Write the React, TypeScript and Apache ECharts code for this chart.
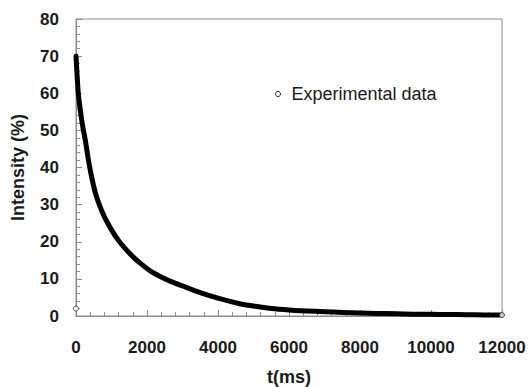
import React, { useEffect, useRef } from "react";
import * as echarts from "echarts";

const timeMs = [0, 30, 60, 100, 150, 200, 260, 350, 450, 550, 676, 800, 1000, 1200, 1400, 1600, 1800, 2100, 2400, 2700, 3000, 3500, 4000, 4600, 5000, 5500, 6000, 6500, 7000, 7500, 8000, 8500, 9000, 9500, 10000, 10500, 11000, 11500, 12000];
const intensity = [70, 65, 60.5, 57, 53.5, 50.5, 47.5, 42, 37, 33, 29.5, 26.7, 23.2, 20.3, 18, 16, 14.3, 12.1, 10.5, 9.2, 8.1, 6.3, 4.8, 3.3, 2.7, 2.0, 1.6, 1.35, 1.15, 0.95, 0.8, 0.7, 0.6, 0.5, 0.45, 0.4, 0.35, 0.3, 0.25];
const markerT = [0, 12000];
const markerI = [2, 0.25];
const seriesName = "Experimental data";

export default function App() {
  const ref = useRef<HTMLDivElement>(null);
  useEffect(() => {
    if (!ref.current) return;
    const chart = echarts.init(ref.current, undefined, { renderer: "svg" });
    const font = "'Liberation Sans', Arial, sans-serif";
    const axisColor = "#8c8c8c";
    chart.setOption({
      animation: false,
      backgroundColor: "#fff",
      grid: {
        left: 76,
        right: 29,
        top: 19,
        bottom: 71,
        outerBoundsMode: "none",
        containLabel: false,
        show: true,
        borderColor: axisColor,
        borderWidth: 1,
      },
      legend: {
        left: 270,
        top: 80,
        itemWidth: 5,
        itemHeight: 5,
        data: [
          {
            name: seriesName,
            icon: "circle",
            itemStyle: { color: "#fff", borderColor: "#222", borderWidth: 1 },
          },
        ],
        textStyle: { fontFamily: font, fontSize: 18, color: "#1a1a1a", padding: [0, 0, 0, 6] },
      },
      xAxis: {
        type: "value",
        min: 0,
        max: 12000,
        interval: 2000,
        name: "t(ms)",
        nameLocation: "middle",
        nameGap: 52,
        nameTextStyle: { fontFamily: font, fontSize: 18, fontWeight: "bold", color: "#1a1a1a" },
        axisLine: { show: true, lineStyle: { color: axisColor, width: 1 } },
        axisTick: { show: true, inside: true, length: 6, lineStyle: { color: axisColor } },
        minorTick: { show: true, splitNumber: 5, length: 4, lineStyle: { color: axisColor } },
        axisLabel: {
          margin: 23,
          fontFamily: font,
          fontSize: 17,
          fontWeight: "bold",
          color: "#1a1a1a",
          formatter: (v: number) => String(v),
        },
        splitLine: { show: false },
      },
      yAxis: {
        type: "value",
        min: 0,
        max: 80,
        interval: 10,
        name: "Intensity (%)",
        nameLocation: "middle",
        nameGap: 49,
        nameTextStyle: { fontFamily: font, fontSize: 18, fontWeight: "bold", color: "#1a1a1a" },
        axisLine: { show: true, lineStyle: { color: axisColor, width: 1 } },
        axisTick: { show: true, inside: true, length: 6, lineStyle: { color: axisColor } },
        minorTick: { show: true, splitNumber: 5, length: 4, lineStyle: { color: axisColor } },
        axisLabel: { margin: 17, fontFamily: font, fontSize: 17, fontWeight: "bold", color: "#1a1a1a" },
        splitLine: { show: false },
      },
      series: [
        {
          name: seriesName,
          type: "line",
          data: timeMs.map((t, i) => [t, intensity[i]]),
          smooth: 0.25,
          symbol: "none",
          lineStyle: { color: "#000", width: 5, join: "round", cap: "round" },
          itemStyle: { color: "#000" },
        },
        {
          name: seriesName,
          type: "scatter",
          data: markerT.map((t, i) => [t, markerI[i]]),
          symbol: "circle",
          symbolSize: 5,
          itemStyle: { color: "#fff", borderColor: "#333", borderWidth: 1 },
          z: 3,
        },
      ],
    });
    return () => chart.dispose();
  }, []);
  return (
    <div
      ref={ref}
      style={{ position: "absolute", left: 0, top: 0, width: 531, height: 387 }}
    />
  );
}
